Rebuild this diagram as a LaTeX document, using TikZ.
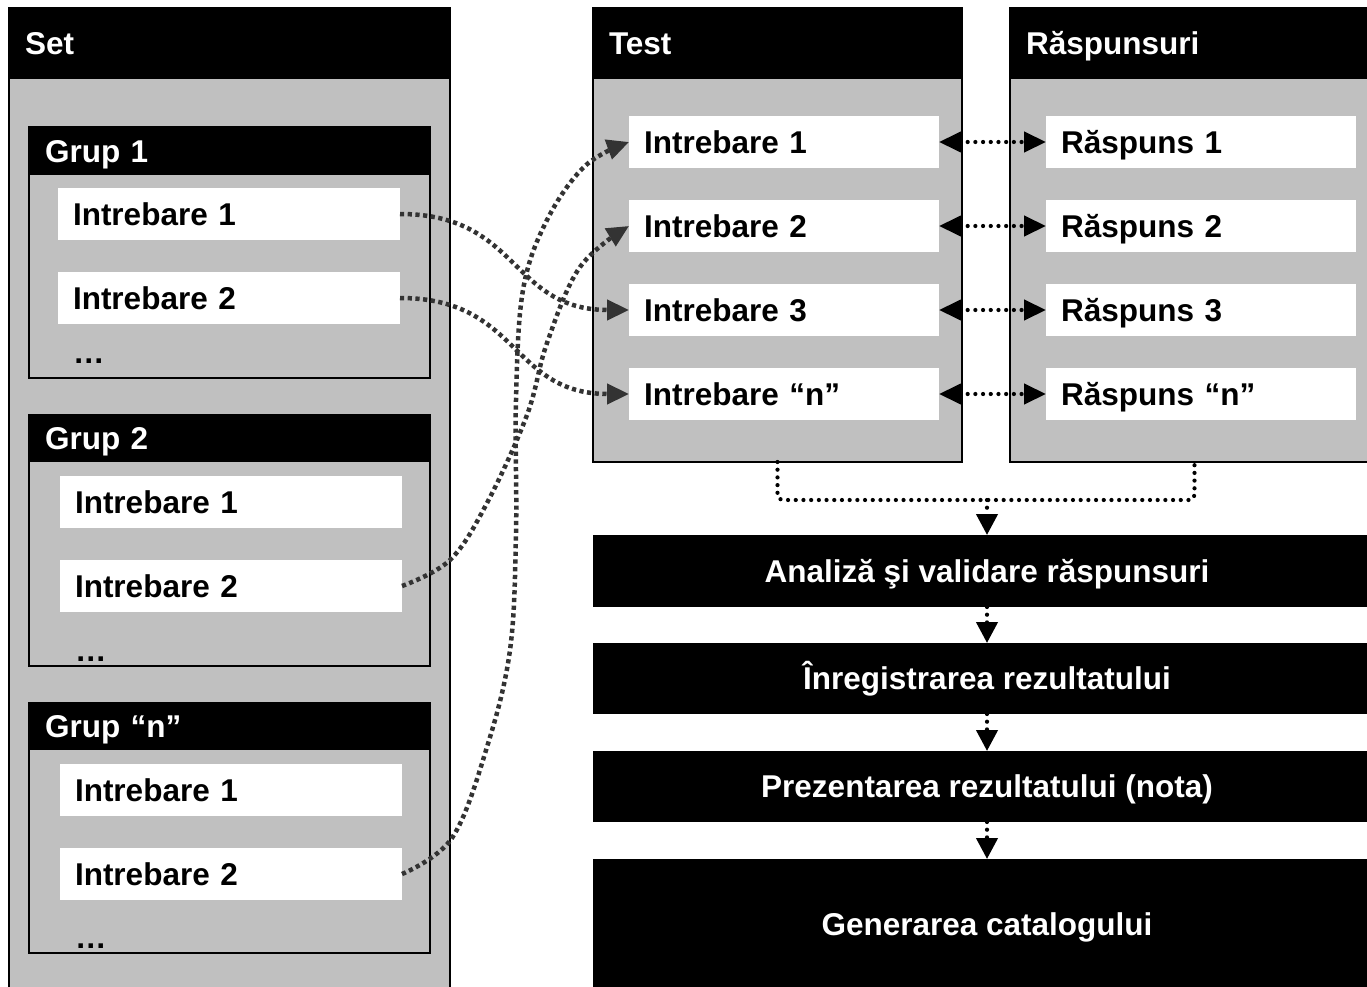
\documentclass[tikz,border=0pt]{standalone}
\usepackage{fontspec}
\setmainfont{Liberation Sans}
\usetikzlibrary{arrows.meta}
\definecolor{boxgray}{HTML}{C0C0C0}
\definecolor{lnk}{HTML}{333333}
\begin{document}
\begin{tikzpicture}[x=1pt,y=-1pt,
  every node/.style={font=\fontsize{31.5}{36}\selectfont\bfseries, inner sep=0pt, outer sep=0pt, anchor=north west},
  txt/.style={text height=22.6pt, text depth=0pt},
  panel/.style={draw=black, line width=1.3pt, fill=boxgray},
  hdr/.style={txt, fill=black, text=white, inner xsep=16pt, align=left},
  item/.style={txt, fill=white, inner xsep=15pt, minimum height=52pt, align=left},
  ellip/.style={anchor=base west},
  stage/.style={txt, fill=black, text=white, minimum width=788pt, align=center},
  bidir/.style={black, line width=4.2pt, dash pattern=on 0pt off 7.7pt, line cap=round,
     {Triangle[length=22pt,width=20pt]}-{Triangle[length=22pt,width=20pt]}},
  flowdot/.style={black, line width=4.2pt, dash pattern=on 0pt off 7.7pt, line cap=round},
  flowarrow/.style={flowdot, -{Triangle[length=21pt,width=21pt]}},
  lnkarrow/.style={lnk, line width=4.5pt, dash pattern=on 4.2pt off 3.5pt,
     -{Triangle[length=22pt,width=20pt]}}]
\useasboundingbox (0,0) rectangle (1367,987);
\fill[white] (0,0) rectangle (1367,987);
\clip (0,0) rectangle (1367,987);

% ---- Set ----
\node[panel, minimum width=441pt, minimum height=1000pt] (set) at (9,8) {};
\node[hdr, text width=409pt, minimum height=71pt] (seth) at (9,8) {Set};

% Grup 1
\node[panel, minimum width=401pt, minimum height=251pt] (g1) at (29,127) {};
\node[hdr, text width=369pt, minimum height=48pt] (g1h) at (29,127) {Grup 1};
\node[item, text width=312pt] (g1a) at (58,188) {Intrebare 1};
\node[item, text width=312pt] (g1b) at (58,272) {Intrebare 2};
\node[ellip] (g1d) at (73,363) {…};

% Grup 2
\node[panel, minimum width=401pt, minimum height=251pt] (g2) at (29,415) {};
\node[hdr, text width=369pt, minimum height=47pt] (g2h) at (29,415) {Grup 2};
\node[item, text width=312pt] (g2a) at (60,476) {Intrebare 1};
\node[item, text width=312pt] (g2b) at (60,560) {Intrebare 2};
\node[ellip] (g2d) at (75,661) {…};

% Grup n
\node[panel, minimum width=401pt, minimum height=250pt] (g3) at (29,703) {};
\node[hdr, text width=369pt, minimum height=47pt] (g3h) at (29,703) {Grup “n”};
\node[item, text width=312pt] (g3a) at (60,764) {Intrebare 1};
\node[item, text width=312pt] (g3b) at (60,848) {Intrebare 2};
\node[ellip] (g3d) at (75,948) {…};

% ---- Test ----
\node[panel, minimum width=369pt, minimum height=454pt] (test) at (593,8) {};
\node[hdr, text width=337pt, minimum height=71pt] (testh) at (593,8) {Test};
\node[item, text width=280pt] (t1) at (629,116) {Intrebare 1};
\node[item, text width=280pt] (t2) at (629,200) {Intrebare 2};
\node[item, text width=280pt] (t3) at (629,284) {Intrebare 3};
\node[item, text width=280pt] (t4) at (629,368) {Intrebare “n”};

% ---- Raspunsuri ----
\node[panel, minimum width=369pt, minimum height=454pt] (resp) at (1010,8) {};
\node[hdr, text width=337pt, minimum height=71pt] (resph) at (1010,8) {Răspunsuri};
\node[item, text width=280pt] (r1) at (1046,116) {Răspuns 1};
\node[item, text width=280pt] (r2) at (1046,200) {Răspuns 2};
\node[item, text width=280pt] (r3) at (1046,284) {Răspuns 3};
\node[item, text width=280pt] (r4) at (1046,368) {Răspuns “n”};

% ---- stages ----
\node[stage, minimum height=72pt] (s1) at (593,535) {Analiză şi validare răspunsuri};
\node[stage, minimum height=71pt] (s2) at (593,643) {Înregistrarea rezultatului};
\node[stage, minimum height=71pt] (s3) at (593,751) {Prezentarea rezultatului (nota)};
\node[stage, minimum height=131pt] (s4) at (593,859) {Generarea catalogului};

% ---- bidirectional links ----
\draw[bidir] (t1.east) -- (r1.west);
\draw[bidir] (t2.east) -- (r2.west);
\draw[bidir] (t3.east) -- (r3.west);
\draw[bidir] (t4.east) -- (r4.west);

% ---- flow ----
\coordinate (j) at (987,500);
\draw[flowdot, rounded corners=5pt] (test.south) |- (j) -| (resp.south);
\draw[flowarrow] (j) -- (s1.north);
\draw[flowarrow] (s1.south) -- (s2.north);
\draw[flowarrow] (s2.south) -- (s3.north);
\draw[flowarrow] (s3.south) -- (s4.north);

% ---- question links ----
\draw[lnkarrow] (g1a.east) .. controls (520,214) and (510,310) .. (t3.west);
\draw[lnkarrow] (g1b.east) .. controls (520,298) and (510,394) .. (t4.west);
\draw[lnkarrow] plot[smooth, tension=0.6] coordinates {(g2b.east) (450,560) (487,503) (527,415) (547,343) (580,267) (t2.west)};
\draw[lnkarrow] plot[smooth, tension=0.6] coordinates {(g3b.east) (452,838) (487,747) (510,650) (516,533) (516,400) (523,290) (547,220) (585,166) (t1.west)};
\end{tikzpicture}
\end{document}
